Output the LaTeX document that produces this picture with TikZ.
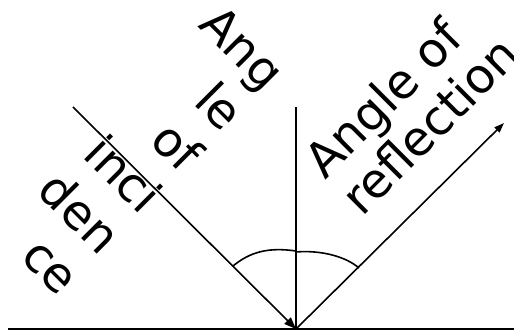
\documentclass[tikz,border=0pt]{standalone}
\usepackage{fontspec}
\setmainfont{DejaVu Sans}
\usetikzlibrary{arrows.meta}

\begin{document}
\begin{tikzpicture}[x=0.5pt,y=0.5pt,>={Triangle[length=6pt,width=4.5pt]},
  ray/.style={line width=0.8pt},
  lbl/.style={inner sep=0pt,font=\fontsize{24}{29}\selectfont}]
\useasboundingbox (0,0) rectangle (514,331);
\coordinate (O) at (296,2);
\coordinate (gl) at (8,2);
\coordinate (gr) at (514,2);
\coordinate (ntop) at (296,224);
\coordinate (src) at (73,224);
\coordinate (dst) at (504,208);
\draw[line width=1pt] (gl) -- (gr);
\draw[line width=1pt] (O) -- (ntop);
\draw[ray,->] (src) -- (O);
\draw[ray,-{Triangle[length=5pt,width=3.5pt]}] (O) -- (dst);
% angle marks
\draw[ray] (233,65) .. controls (250,79) and (268,84) .. (296,80);
\draw[ray] (296,79) .. controls (320,81) and (345,75) .. (359,63);
\node[lbl,rotate=-45,anchor=north east,align=right] (inctxt) at (289,263) {Ang\\le\\of\\inci\\den\\ce};
\node[lbl,rotate=45,anchor=north west,align=left,font=\fontsize{24}{26}\selectfont] (refltxt) at (299,176) {Angle of\\reflection};
\end{tikzpicture}
\end{document}
